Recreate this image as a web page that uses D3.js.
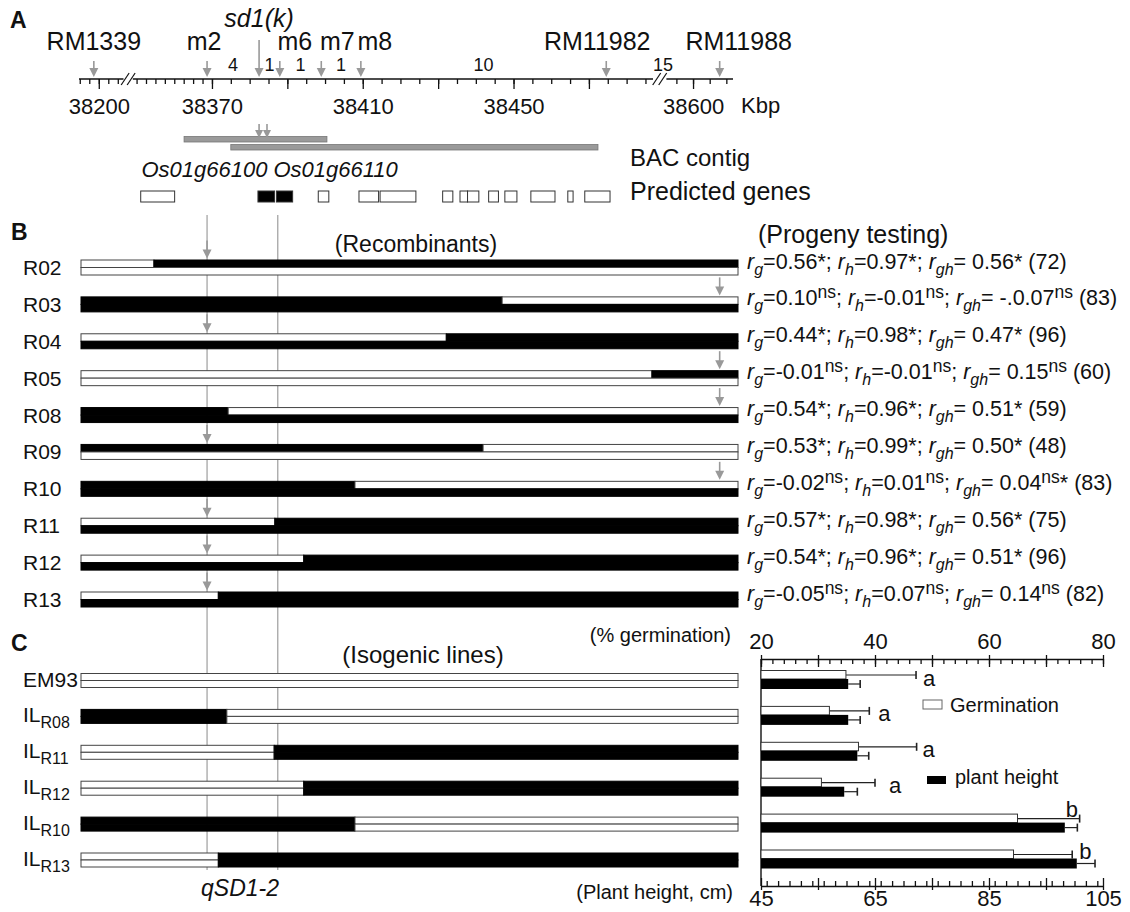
<!DOCTYPE html>
<html>
<head>
<meta charset="utf-8">
<script src="https://cdn.jsdelivr.net/npm/d3@7"></script>
<style>
  body { margin: 0; background: #fff; }
  text { font-family: "Liberation Sans", Arial, sans-serif; fill: #111; white-space: pre; }
</style>
</head>
<body>
<div id="fig"></div>
<script>
// ---- panel A : physical map ----
var markerNames = ["RM1339", "m2", "sd1(k)", "m6", "m7", "m8", "RM11982", "RM11988"]
var markerKbp = [38198.7, 38368.7, 38382.5, 38388, 38399, 38409.5, 38474.6, 38608]
var intervalFrom = ["m2", "sd1(k)", "m6", "m7", "m8", "RM11982"]
var intervalTo = ["sd1(k)", "m6", "m7", "m8", "RM11982", "RM11988"]
var intervalCount = [4, 1, 1, 1, 10, 15]

var minorTicks = [38195, 38197.5, 38200, 38202.5, 38205,
  38350, 38352.5, 38355, 38357.5, 38360, 38362.5, 38365, 38367.5, 38370,
  38375, 38380, 38385, 38390, 38395, 38400, 38405, 38410, 38415, 38420, 38425, 38430,
  38435, 38440, 38445, 38450, 38455, 38460, 38465, 38470, 38475, 38480, 38485,
  38595, 38600, 38605, 38610]
var majorTicks = [38200, 38370, 38390, 38410, 38430, 38450, 38470, 38600]
var kbpLabels = [38200, 38370, 38410, 38450, 38600]

var bacStart = [38362.6, 38375.0]
var bacEnd = [38400.5, 38472.4]
var bacArrows = [38382.5, 38384.6]

var geneStart = [38351.1, 38382.2, 38387.1, 38398.2, 38409.0, 38414.6, 38431.2, 38435.8, 38437.8, 38443.4, 38447.7, 38454.6, 38464.4, 38468.9]
var geneEnd = [38360.1, 38386.6, 38391.4, 38401.0, 38414.2, 38424.1, 38433.9, 38437.8, 38440.8, 38446.0, 38450.9, 38461.0, 38465.8, 38475.6]
var geneNames = ["", "Os01g66100", "Os01g66110", "", "", "", "", "", "", "", "", "", "", ""]

// ---- panel B : recombinants (break point in % of the drawn region) ----
var recNames = ["R02", "R03", "R04", "R05", "R08", "R09", "R10", "R11", "R12", "R13"]
var recBreak = [11.1, 64.1, 55.6, 86.9, 22.4, 61.2, 41.7, 29.5, 33.9, 20.9]
var recTop = ["wk", "kw", "wk", "wk", "kw", "kw", "kw", "wk", "wk", "wk"]
var recBottom = ["w", "k", "k", "w", "k", "w", "k", "k", "k", "k"]
var recArrow = ["m2", "RM11988", "m2", "RM11988", "RM11988", "m2", "RM11988", "m2", "m2", "m2"]

var rgVal = ["0.56", "0.10", "0.44", "-0.01", "0.54", "0.53", "-0.02", "0.57", "0.54", "-0.05"]
var rgSig = ["*", "ns", "*", "ns", "*", "*", "ns", "*", "*", "ns"]
var rhVal = ["0.97", "-0.01", "0.98", "-0.01", "0.96", "0.99", "0.01", "0.98", "0.96", "0.07"]
var rhSig = ["*", "ns", "*", "ns", "*", "*", "ns", "*", "*", "ns"]
var rghVal = ["0.56", "-.0.07", "0.47", "0.15", "0.51", "0.50", "0.04", "0.56", "0.51", "0.14"]
var rghSig = ["*", "ns", "*", "ns", "*", "*", "ns*", "*", "*", "ns"]
var progenyN = [72, 83, 96, 60, 59, 48, 83, 75, 96, 82]

// ---- panel C : isogenic lines ----
var ilNames = ["EM93", "R08", "R11", "R12", "R10", "R13"]
var ilBreak = [100, 22.2, 29.4, 33.9, 41.7, 20.9]
var ilLeft = ["w", "k", "w", "w", "k", "w"]
var ilRight = ["w", "w", "k", "k", "w", "k"]
var germMean = [34.9, 32.0, 37.1, 30.6, 65.0, 64.3]
var germErr = [12.3, 7.0, 10.2, 9.4, 10.9, 10.3]
var heightMean = [60.3, 60.3, 61.9, 59.6, 98.3, 100.4]
var heightErr = [2.1, 2.1, 2.0, 2.3, 2.2, 3.2]
var groupLetter = ["a", "a", "a", "a", "b", "b"]
var germTickLabels = [20, 40, 60, 80]
var heightTickLabels = [45, 65, 85, 105]

var GRAY = "#999", OUTLINE = "#444"
var FILL = {w: "#fff", k: "#000"}

var svg = d3.select("#fig").append("svg")
  .attr("width", 1130)
  .attr("height", 912)

function arrowDown(g, x, y0, y1, head) {
  head = head || 9
  g.append("line")
    .attr("x1", x).attr("x2", x)
    .attr("y1", y0).attr("y2", y1 - head + 1)
    .attr("stroke", GRAY).attr("stroke-width", 1.6)
  g.append("path")
    .attr("d", "M" + (x - head / 2) + "," + (y1 - head) + "L" + (x + head / 2) + "," + (y1 - head) + "L" + x + "," + y1 + "Z")
    .attr("fill", GRAY)
}

function panelLetter(t, x, y) {
  svg.append("text").attr("x", x).attr("y", y)
    .attr("font-size", 23).attr("font-weight", "bold").text(t)
}

// ================= A =================
var AXIS_Y = 79
var xA = d3.scaleLinear()
  .domain([38194.8, 38206.5, 38349, 38487, 38592, 38612])
  .range([79, 123.5, 132.8, 653, 666.4, 733])
var gA = svg.append("g")

panelLetter("A", 10, 28)

// axis line with two breaks
var pieces = [[38194.8, 38206.5], [38349, 38487], [38592, 38612]]
pieces.forEach(function(p) {
  gA.append("line")
    .attr("x1", xA(p[0])).attr("x2", xA(p[1]))
    .attr("y1", AXIS_Y).attr("y2", AXIS_Y)
    .attr("stroke", "#111").attr("stroke-width", 1.4)
})
for (var b = 0; b < 2; b++) {
  var bx = (xA(pieces[b][1]) + xA(pieces[b + 1][0])) / 2
  ;[-3, 3].forEach(function(o) {
    gA.append("line")
      .attr("x1", bx + o - 4).attr("x2", bx + o + 4)
      .attr("y1", AXIS_Y + 6).attr("y2", AXIS_Y - 6)
      .attr("stroke", "#111").attr("stroke-width", 1.2)
  })
}

gA.append("g")
  .attr("transform", "translate(0," + AXIS_Y + ")")
  .call(d3.axisBottom(xA).tickValues(minorTicks).tickSize(5).tickFormat(""))
  .call(function(g) { g.select(".domain").remove() })
  .selectAll("line").attr("stroke", "#111").attr("stroke-width", 1.3)

gA.append("g")
  .attr("transform", "translate(0," + AXIS_Y + ")")
  .call(d3.axisBottom(xA).tickValues(majorTicks).tickSize(10).tickPadding(9)
    .tickFormat(function(d) { return kbpLabels.indexOf(d) >= 0 ? d : "" }))
  .call(function(g) {
    g.select(".domain").remove()
    g.selectAll("line").attr("stroke", "#111").attr("stroke-width", 1.3)
    g.selectAll("text").attr("font-size", 22).attr("fill", "#111")
      .attr("font-family", "Liberation Sans, Arial, sans-serif")
  })

gA.append("text").attr("x", 741).attr("y", 113).attr("font-size", 22).text("Kbp")

// markers
var markerLabelDx = [0, -3, 0, 15, 16, 14, -9, 19]
markerNames.forEach(function(name, i) {
  var x = xA(markerKbp[i])
  var isGene = name == "sd1(k)"
  arrowDown(gA, x, isGene ? 40 : 61, AXIS_Y - 2)
  gA.append("text")
    .attr("x", x + markerLabelDx[i])
    .attr("y", isGene ? 27 : 50)
    .attr("text-anchor", "middle")
    .attr("font-size", 25)
    .style("font-style", isGene ? "italic" : "normal")
    .text(name)
})

// recombinant counts between markers
intervalCount.forEach(function(n, i) {
  var x0 = xA(markerKbp[markerNames.indexOf(intervalFrom[i])])
  var x1 = xA(markerKbp[markerNames.indexOf(intervalTo[i])])
  gA.append("text")
    .attr("x", (x0 + x1) / 2).attr("y", 71)
    .attr("text-anchor", "middle").attr("font-size", 18)
    .text(n)
})

// BAC contig
bacStart.forEach(function(s, i) {
  gA.append("rect")
    .attr("x", xA(s)).attr("y", 136.5 + i * 8)
    .attr("width", xA(bacEnd[i]) - xA(s)).attr("height", 5.5)
    .attr("fill", "#9a9a9a").attr("stroke", "#777").attr("stroke-width", 0.8)
})
bacArrows.forEach(function(k) { arrowDown(gA, xA(k), 124, 138, 8) })
gA.append("text").attr("x", 630).attr("y", 166).attr("font-size", 24).text("BAC contig")

// predicted genes
geneStart.forEach(function(s, i) {
  gA.append("rect")
    .attr("x", xA(s)).attr("y", 191)
    .attr("width", xA(geneEnd[i]) - xA(s)).attr("height", 11)
    .attr("fill", geneNames[i] ? "#000" : "#fff")
    .attr("stroke", "#333").attr("stroke-width", 1)
})
var splitX = (xA(geneEnd[1]) + xA(geneStart[2])) / 2
gA.append("text").attr("x", splitX - 8).attr("y", 177).attr("text-anchor", "end")
  .attr("font-size", 22).style("font-style", "italic").text(geneNames[1])
gA.append("text").attr("x", splitX - 2).attr("y", 177)
  .attr("font-size", 22).style("font-style", "italic").text(geneNames[2])
gA.append("text").attr("x", 630).attr("y", 200).attr("font-size", 25).text("Predicted genes")

// ================= B & C shared =================
var xBar = d3.scaleLinear().domain([0, 100]).range([81, 738])

// guide lines through m2 and m6
;["m2", "m6"].forEach(function(m) {
  var x = xA(markerKbp[markerNames.indexOf(m)]) - (m == "m6" ? 2 : 0)
  svg.append("line")
    .attr("x1", x).attr("x2", x).attr("y1", 215).attr("y2", 870)
    .attr("stroke", "#8a8a8a").attr("stroke-width", 1)
})

function drawHalf(g, y, h, segs) {
  segs.forEach(function(s) {
    if (s[1] - s[0] <= 0) return
    g.append("rect")
      .attr("x", xBar(s[0])).attr("y", y)
      .attr("width", xBar(s[1]) - xBar(s[0])).attr("height", h)
      .attr("fill", FILL[s[2]])
      .attr("stroke", s[2] == "k" ? "#000" : OUTLINE).attr("stroke-width", 1)
  })
}

// ================= B =================
panelLetter("B", 11, 240)
var yB = d3.scalePoint().domain(recNames).range([267.5, 599.5])
var gB = svg.append("g")
gB.append("text").attr("x", 416).attr("y", 252).attr("text-anchor", "middle")
  .attr("font-size", 23).text("(Recombinants)")
gB.append("text").attr("x", 758).attr("y", 243).attr("font-size", 25).text("(Progeny testing)")

function corrText(sel, i) {
  var parts = [["g", rgVal[i], rgSig[i], ""], ["h", rhVal[i], rhSig[i], ""], ["gh", rghVal[i], rghSig[i], " "]]
  parts.forEach(function(p, k) {
    sel.append("tspan").style("font-style", "italic").text("r")
    sel.append("tspan").style("font-style", "italic").attr("font-size", 16).attr("dy", 6).text(p[0])
    sel.append("tspan").attr("dy", -6).text("=" + p[3] + p[1])
    if (p[2].indexOf("ns") == 0) {
      sel.append("tspan").attr("font-size", 17.5).attr("dy", -7).text("ns")
      sel.append("tspan").attr("dy", 7).text(p[2].slice(2) + (k < 2 ? "; " : " (" + progenyN[i] + ")"))
    } else {
      sel.append("tspan").text(p[2] + (k < 2 ? "; " : " (" + progenyN[i] + ")"))
    }
  })
}

recNames.forEach(function(name, i) {
  var c = yB(name)
  var brk = recBreak[i]
  gB.append("text").attr("x", 23).attr("y", c + 7.5).attr("font-size", 21).text(name)
  drawHalf(gB, c - 7.5, 7.5, [[0, brk, recTop[i][0]], [brk, 100, recTop[i][1]]])
  drawHalf(gB, c, 7.5, [[0, 100, recBottom[i]]])
  var ax = xA(markerKbp[markerNames.indexOf(recArrow[i])])
  arrowDown(gB, ax, c - 27, c - 9)
  corrText(gB.append("text").attr("x", 747).attr("y", c + 1).attr("font-size", 21.5), i)
})

// ================= C =================
panelLetter("C", 11, 651)
var yC = d3.scalePoint().domain(ilNames).range([680.5, 860])
var gC = svg.append("g")
gC.append("text").attr("x", 423).attr("y", 663).attr("text-anchor", "middle")
  .attr("font-size", 24).text("(Isogenic lines)")
gC.append("text").attr("x", 731).attr("y", 642).attr("text-anchor", "end")
  .attr("font-size", 20).text("(% germination)")
gC.append("text").attr("x", 733).attr("y", 899).attr("text-anchor", "end")
  .attr("font-size", 20).text("(Plant height, cm)")
gC.append("text").attr("x", 240).attr("y", 896).attr("text-anchor", "middle")
  .attr("font-size", 23).style("font-style", "italic").text("qSD1-2")

ilNames.forEach(function(name, i) {
  var c = yC(name)
  var lab = gC.append("text").attr("x", 23).attr("y", c + 6).attr("font-size", 21)
  if (name == "EM93") lab.text(name)
  else {
    lab.append("tspan").text("IL")
    lab.append("tspan").attr("font-size", 16).attr("dy", 6).text(name)
  }
  var segs = [[0, ilBreak[i], ilLeft[i]], [ilBreak[i], 100, ilRight[i]]]
  drawHalf(gC, c - 7, 7, segs)
  drawHalf(gC, c, 7, segs)
})

// bar chart
var gScale = d3.scaleLinear().domain([20, 80]).range([761, 1103])
var hScale = d3.scaleLinear().domain([45, 105]).range([761, 1103])
var TOP_Y = 659, BOT_Y = 886
var gBar = svg.append("g")

function styleAxis(g) {
  g.selectAll("line").attr("stroke", "#111").attr("stroke-width", 1.3)
  g.select(".domain").attr("stroke", "#111").attr("stroke-width", 1.4)
  g.selectAll("text").attr("fill", "#111").attr("font-size", 22)
    .attr("font-family", "Liberation Sans, Arial, sans-serif")
}

gBar.append("g").attr("transform", "translate(0," + TOP_Y + ")")
  .call(d3.axisBottom(gScale).ticks(30).tickSize(5).tickSizeOuter(0).tickFormat(""))
  .call(styleAxis)
gBar.append("g").attr("transform", "translate(0," + (TOP_Y - 4) + ")")
  .call(d3.axisBottom(gScale).ticks(6).tickSize(12).tickFormat(""))
  .call(function(g) { g.select(".domain").remove(); styleAxis(g) })
gBar.append("g").attr("transform", "translate(0," + TOP_Y + ")")
  .call(d3.axisTop(gScale).tickValues(germTickLabels).tickSize(0).tickPadding(10))
  .call(function(g) { g.select(".domain").remove(); styleAxis(g) })

gBar.append("g").attr("transform", "translate(0," + BOT_Y + ")")
  .call(d3.axisTop(hScale).ticks(30).tickSize(5).tickSizeOuter(0).tickFormat(""))
  .call(styleAxis)
gBar.append("g").attr("transform", "translate(0," + (BOT_Y + 4) + ")")
  .call(d3.axisTop(hScale).tickValues(d3.range(45, 106, 10)).tickSize(12).tickFormat(""))
  .call(function(g) { g.select(".domain").remove(); styleAxis(g) })
gBar.append("g").attr("transform", "translate(0," + BOT_Y + ")")
  .call(d3.axisBottom(hScale).tickValues(heightTickLabels).tickSize(0).tickPadding(4))
  .call(function(g) { g.select(".domain").remove(); styleAxis(g) })

gBar.append("line").attr("x1", gScale(20)).attr("x2", gScale(20))
  .attr("y1", TOP_Y).attr("y2", BOT_Y).attr("stroke", "#111").attr("stroke-width", 1.4)

var letterDx = [7, 9, 6, 14, -14, 7]
var letterDy = [5, 5, 5, 5, -7, -1]

function errBar(x0, x1, y) {
  gBar.append("line").attr("x1", x0).attr("x2", x1).attr("y1", y).attr("y2", y)
    .attr("stroke", "#222").attr("stroke-width", 1.2)
  gBar.append("line").attr("x1", x1).attr("x2", x1).attr("y1", y - 4).attr("y2", y + 4)
    .attr("stroke", "#222").attr("stroke-width", 1.6)
}

ilNames.forEach(function(name, i) {
  var c = yC(name)
  errBar(gScale(germMean[i]), gScale(germMean[i] + germErr[i]), c - 5.5)
  errBar(hScale(heightMean[i]), hScale(heightMean[i] + heightErr[i]), c + 3.5)
  gBar.append("rect")
    .attr("x", gScale(20)).attr("y", c - 10)
    .attr("width", gScale(germMean[i]) - gScale(20)).attr("height", 8.5)
    .attr("fill", "#fff").attr("stroke", "#333").attr("stroke-width", 1)
  gBar.append("rect")
    .attr("x", hScale(45)).attr("y", c - 1.5)
    .attr("width", hScale(heightMean[i]) - hScale(45)).attr("height", 10)
    .attr("fill", "#000")
  gBar.append("text")
    .attr("x", gScale(germMean[i] + germErr[i]) + letterDx[i])
    .attr("y", c + letterDy[i])
    .attr("font-size", 22).text(groupLetter[i])
})

// legend
gBar.append("rect").attr("x", 923).attr("y", 700).attr("width", 19).attr("height", 9)
  .attr("fill", "#fff").attr("stroke", "#666")
gBar.append("text").attr("x", 950).attr("y", 712).attr("font-size", 20).text("Germination")
gBar.append("rect").attr("x", 927).attr("y", 776).attr("width", 19).attr("height", 8)
  .attr("fill", "#000")
gBar.append("text").attr("x", 955).attr("y", 784).attr("font-size", 20).text("plant height")
</script>
</body>
</html>
